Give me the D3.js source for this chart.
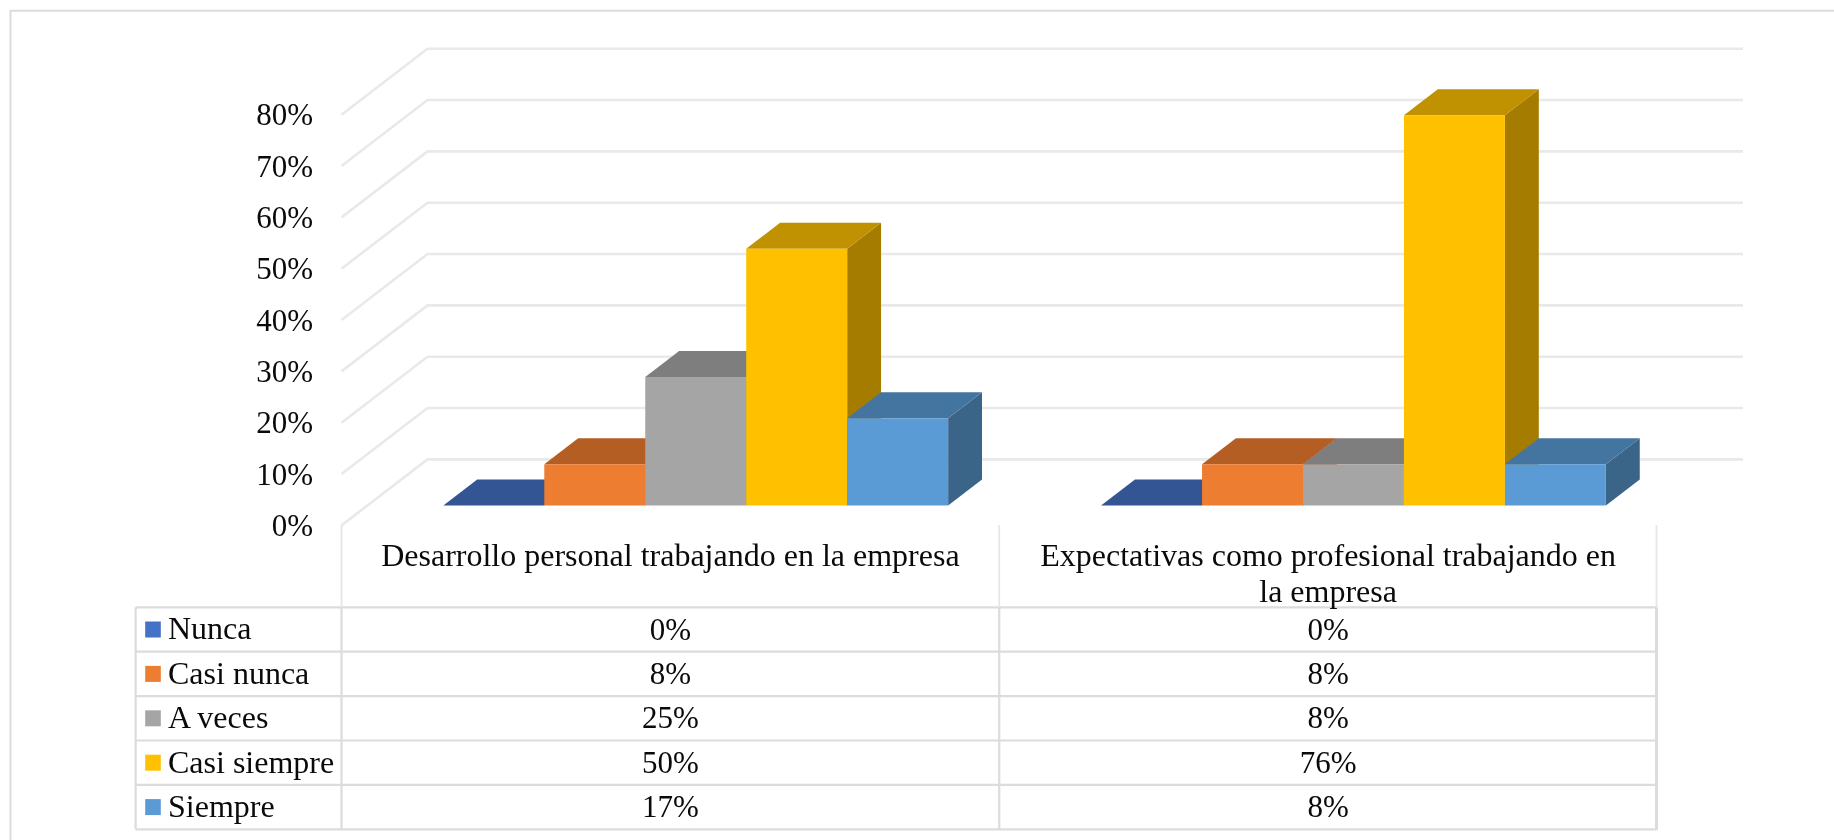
<!DOCTYPE html>
<html><head><meta charset="utf-8">
<script src="https://cdn.jsdelivr.net/npm/d3@7"></script>
<style>html,body{margin:0;padding:0;background:#fff}svg{display:block;filter:blur(0.4px)}text{font-family:"Liberation Serif","Times New Roman",serif;fill:#0a0a0a}</style>
</head><body><svg id="c" width="1834" height="840"></svg>
<script>
const categories=["Desarrollo personal trabajando en la empresa","Expectativas como profesional trabajando en la empresa"];
const categoryLines=[["Desarrollo personal trabajando en la empresa"],["Expectativas como profesional trabajando en","la empresa"]];
const seriesNames=["Nunca","Casi nunca","A veces","Casi siempre","Siempre"];
const desarrollo=[0,8,25,50,17];
const expectativas=[0,8,8,76,8];
const yTicks=[0,10,20,30,40,50,60,70,80];
const colFront=["#4472c4","#ed7d31","#a5a5a5","#ffc000","#5b9bd5"];
const colTop=["#335593","#b55e24","#7e7e7e","#c09100","#4475a1"];
const colSide=["#2c4a7f","#9c5020","#6c6c6c","#a57c00","#3b6489"];
const table=[desarrollo,expectativas];

const svg=d3.select("#c");
const FS=32, FSN=31;
const plot={l:341.5,r:1657,front0:525.4,front80:114.7,dx:86,dy:66};
const y=d3.scaleLinear().domain([0,80]).range([plot.front0,plot.front80]);
const x=d3.scaleBand().domain(categories).range([plot.l,plot.r]);
const s=d3.scaleBand().domain(seriesNames).range([0,504.8]);
const proj=(px,py,z)=>[px+z*plot.dx,py-z*plot.dy];
const zF=20/66,zB=46/66;

// frame: top and left edges only, both running off the picture
svg.append("path").attr("d","M10.5,840V10.8H1834").attr("fill","none").attr("stroke","#dcdcdc").attr("stroke-width",2);

// gridlines
svg.append("g").selectAll("path").data(yTicks).join("path")
  .attr("fill","none").attr("stroke","#e9e9e9").attr("stroke-width",2.6)
  .attr("d",d=>{const a=proj(plot.l,y(d),0),b=proj(plot.l,y(d),1),c=proj(plot.r,y(d),1);return d3.line()([a,b,c]);});

// axis labels
svg.append("g").selectAll("text").data(yTicks).join("text")
  .attr("x",313).attr("y",d=>y(d)).attr("dy","0.34em").attr("text-anchor","end")
  .attr("font-size",FSN).text(d=>d+"%");

// bars
categories.forEach((cat,ci)=>{
  const g=svg.append("g");
  const x0=x(cat)+(x.bandwidth()-504.8)/2-0.7;
  seriesNames.forEach((n,i)=>{
    const v=table[ci][i];
    const l=x0+s(n), r=l+s.bandwidth(), t=y(v), b=y(0);
    const poly=(pts,c)=>g.append("polygon").attr("points",pts.map(p=>p.join(",")).join(" ")).attr("fill",c);
    if(v>0) poly([proj(r,t,zF),proj(r,t,zB),proj(r,b,zB),proj(r,b,zF)],colSide[i]);
    poly([proj(l,t,zF),proj(l,t,zB),proj(r,t,zB),proj(r,t,zF)],colTop[i]);
    if(v>0) poly([proj(l,t,zF),proj(r,t,zF),proj(r,b,zF),proj(l,b,zF)],colFront[i]);
  });
});

// table
const rowY=d3.scaleBand().domain(seriesNames).range([607.3,829.3]);
const L=135.6, C0=plot.l, C1=x(categories[1]), R=plot.r-0.5;
const tg=svg.append("g").attr("fill","none").attr("stroke","#dcdcdc").attr("stroke-width",2.2);
seriesNames.concat(["_end"]).forEach((n,i)=>{
  const yy=i<5?rowY(n):rowY.range()[1];
  tg.append("line").attr("x1",L).attr("x2",R).attr("y1",yy).attr("y2",yy);
});
[L,C0,C1].forEach(xx=>tg.append("line").attr("x1",xx).attr("x2",xx).attr("y1",607.3).attr("y2",829.3));
tg.append("line").attr("x1",R).attr("x2",R).attr("y1",607.3).attr("y2",830).attr("stroke-width",3);
[C0,C1,R].forEach(xx=>tg.append("line").attr("x1",xx).attr("x2",xx).attr("y1",525).attr("y2",607.3).attr("stroke","#e6e6e6").attr("stroke-width",1.8));

// header
categories.forEach((cat,ci)=>{
  const cx=x(cat)+x.bandwidth()/2;
  categoryLines[ci].forEach((t,k)=>svg.append("text").attr("x",cx).attr("y",566+k*36).attr("text-anchor","middle").attr("font-size",FS).text(t));
});

// rows
seriesNames.forEach((n,i)=>{
  const cy=rowY(n)+rowY.bandwidth()/2;
  svg.append("rect").attr("x",145.2).attr("y",cy-8).attr("width",15.6).attr("height",16).attr("fill",colFront[i]);
  svg.append("text").attr("x",168).attr("y",cy-1).attr("dy","0.34em").attr("font-size",FS).text(n);
  categories.forEach((cat,ci)=>svg.append("text").attr("x",x(cat)+x.bandwidth()/2).attr("y",cy-0.5).attr("dy","0.34em")
    .attr("text-anchor","middle").attr("font-size",FSN).text(table[ci][i]+"%"));
});
</script></body></html>
